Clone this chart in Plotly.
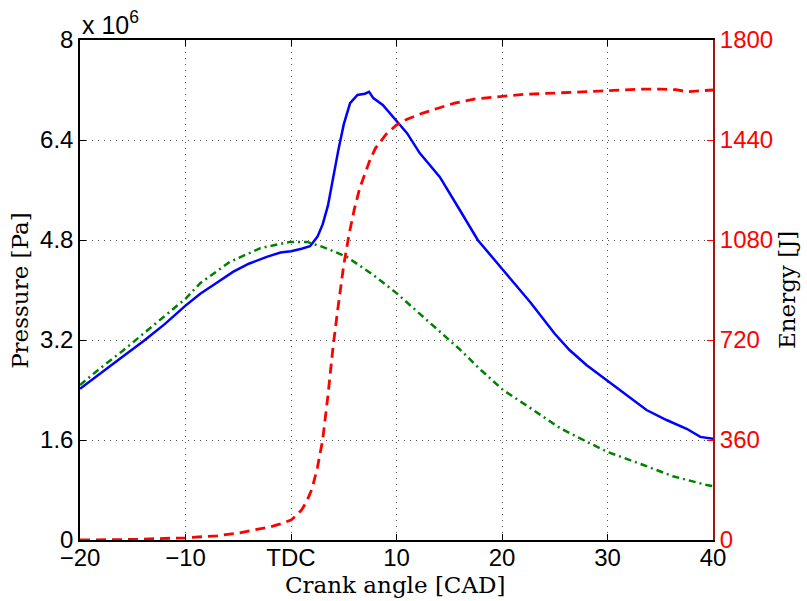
import plotly.graph_objects as go

# Fired cylinder pressure (x 1e6 Pa)
cad_fired = [-20, -18, -16, -14, -12, -10, -8.6, -7, -5.5, -4, -2.3, -1, 0, 1, 1.8, 2.5, 3, 3.5, 4,
             4.5, 5, 5.6, 6.3, 7, 7.4, 7.8, 8.7, 9.7, 11, 12.2, 14.1, 16, 17.7, 20, 22.7, 25, 26.4,
             28, 29.9, 31.8, 33.7, 35.6, 37.5, 38.8, 39.7, 40]
p_fired = [2.42, 2.68, 2.93, 3.18, 3.45, 3.75, 3.94, 4.12, 4.29, 4.42, 4.53, 4.6, 4.62, 4.66, 4.70,
           4.85, 5.05, 5.35, 5.81, 6.25, 6.65, 6.99, 7.12, 7.14, 7.17, 7.07, 6.96, 6.77, 6.51, 6.19,
           5.81, 5.28, 4.8, 4.34, 3.8, 3.3, 3.04, 2.8, 2.56, 2.32, 2.08, 1.92, 1.78, 1.65, 1.63, 1.62]

# Motored pressure (x 1e6 Pa)
cad_motored = [-20, -18, -16, -14, -12, -10, -8.6, -5.8, -2.9, -0.1, 1.5, 3, 5.3, 7.8, 10, 13, 16,
               18, 20.1, 22.7, 25.5, 28.3, 30, 33.4, 36.2, 39.4, 40]
p_motored = [2.48, 2.76, 3.02, 3.3, 3.58, 3.86, 4.11, 4.45, 4.67, 4.77, 4.77, 4.69, 4.53, 4.24,
             3.95, 3.5, 3.05, 2.72, 2.4, 2.11, 1.79, 1.55, 1.41, 1.2, 1.02, 0.88, 0.86]

# Cumulative heat release energy (J)
cad_energy = [-20, -15, -10, -7, -5, -3, -2, -1, 0, 0.5, 1, 1.5, 2, 2.5, 3, 3.5, 4, 4.5, 5, 5.5, 6,
              6.5, 7, 7.5, 8, 9, 10, 11, 12.5, 14, 15.5, 17.5, 20, 22, 25, 28, 31, 33, 35, 36.5,
              37.5, 39, 40]
energy = [0, 2, 8, 15, 25, 38, 47, 58, 72, 88, 108, 140, 185, 260, 360, 520, 700, 850, 990, 1100,
          1190, 1265, 1320, 1370, 1410, 1460, 1494, 1515, 1537, 1556, 1573, 1588, 1598, 1604, 1609,
          1614, 1620, 1623, 1623, 1621, 1614, 1618, 1620]

x_ticks = [-20, -10, 0, 10, 20, 30, 40]
x_ticklabels = ["\u221220", "\u221210", "TDC", "10", "20", "30", "40"]
p_ticks = [0, 1.6, 3.2, 4.8, 6.4, 8]
p_ticklabels = ["0", "1.6", "3.2", "4.8", "6.4", "8"]
e_ticks = [0, 360, 720, 1080, 1440, 1800]

fig = go.Figure()
fig.add_trace(go.Scatter(x=cad_motored, y=p_motored, mode="lines",
                         line=dict(color="#008000", width=2.5, dash="7px,4px,2px,4px"),
                         showlegend=False))
fig.add_trace(go.Scatter(x=cad_fired, y=p_fired, mode="lines",
                         line=dict(color="#0000ff", width=2.5), showlegend=False))
fig.add_trace(go.Scatter(x=cad_energy, y=energy, mode="lines", yaxis="y2",
                         line=dict(color="#ff0000", width=2.8, dash="10px,6px"),
                         showlegend=False))

sans = "Liberation Sans, Arial, Helvetica, sans-serif"
tickfont = dict(family=sans, size=24, color="black")
titlefont = dict(family="DejaVu Serif, serif", size=23, color="black")
grid = dict(showgrid=True, gridcolor="#555", griddash="1px,5px", gridwidth=1)

fig.update_layout(
    width=807, height=601,
    margin=dict(l=80, r=94, t=40, b=61, autoexpand=False),
    paper_bgcolor="white", plot_bgcolor="white",
    xaxis=dict(range=[-20, 40], tickvals=x_ticks, ticktext=x_ticklabels,
               ticks="inside", ticklen=6, tickcolor="black", tickfont=tickfont,
               ticklabelstandoff=-5,
               showline=True, linecolor="black", linewidth=1.5, mirror="ticks",
               zeroline=False, automargin=False, **grid),
    yaxis=dict(range=[0, 8], tickvals=p_ticks, ticktext=p_ticklabels,
               ticks="inside", ticklen=6, tickcolor="black", tickfont=tickfont,
               showline=True, linecolor="black", linewidth=1.5,
               zeroline=False, automargin=False, **grid),
    yaxis2=dict(range=[0, 1800], tickvals=e_ticks, overlaying="y", side="right",
                ticks="inside", ticklen=6, tickcolor="#ff0000",
                tickfont=dict(family=sans, size=24, color="#ff0000"),
                showline=True, linecolor="#a31515", linewidth=2,
                showgrid=False, zeroline=False, automargin=False),
    annotations=[
        dict(text="Crank angle [CAD]", xref="paper", yref="paper", x=0.499, y=-0.089,
             xanchor="center", yanchor="middle", showarrow=False, font=titlefont),
        dict(text="Pressure [Pa]", xref="paper", yref="paper", x=-0.095, y=0.5,
             xanchor="center", yanchor="middle", textangle=-90, showarrow=False, font=titlefont),
        dict(text="Energy [J]", xref="paper", yref="paper", x=1.117, y=0.5,
             xanchor="center", yanchor="middle", textangle=-90, showarrow=False, font=titlefont),
        dict(text="x 10<sup>6</sup>", xref="paper", yref="paper", x=0.0, y=0.998,
             xanchor="left", yanchor="bottom", showarrow=False,
             font=dict(family=sans, size=25, color="black")),
    ],
)

fig.write_html("out.html", config={"displayModeBar": False},
               post_script="document.body.style.margin='0';document.body.style.overflow='hidden';")
